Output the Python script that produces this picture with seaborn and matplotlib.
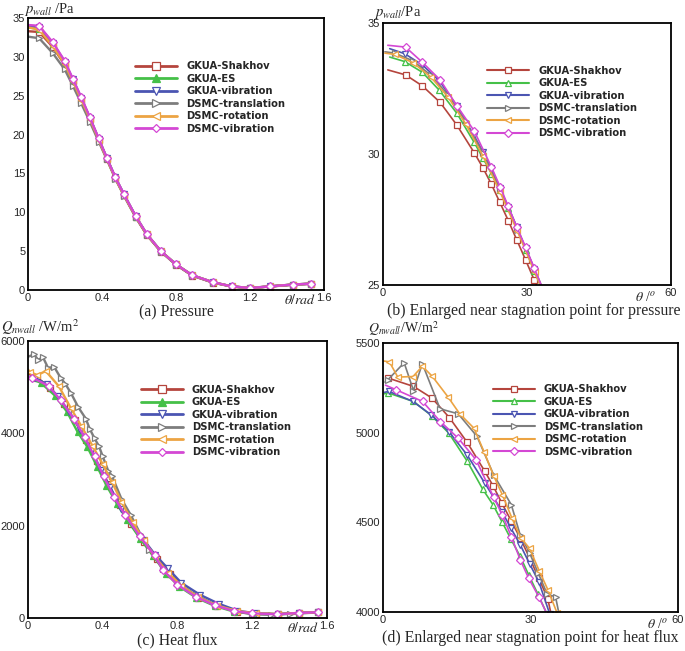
import matplotlib
matplotlib.use("Agg")
import matplotlib.pyplot as plt
from matplotlib.lines import Line2D
from matplotlib.ticker import MultipleLocator
import seaborn as sns

# series names / styles
names = ["GKUA-Shakhov", "GKUA-ES", "GKUA-vibration",
         "DSMC-translation", "DSMC-rotation", "DSMC-vibration"]
colors = ["#b5453d", "#45c048", "#4b55b2", "#7d7d7d", "#eca443", "#d448d4"]
markers = ["s", "^", "v", ">", "<", "D"]

# (a) pressure, theta in rad
th_a = [0.0, 0.06, 0.133, 0.198, 0.242, 0.288, 0.335, 0.382, 0.426, 0.472, 0.519,
        0.582, 0.642, 0.718, 0.8, 0.888, 1.0, 1.10, 1.20, 1.31, 1.43, 1.53]
p_a_shakhov = [33.3, 33.2, 31.3, 29.0, 26.9, 24.5, 22.0, 19.3, 16.9, 14.4, 12.2,
               9.4, 7.1, 4.95, 3.25, 1.85, 0.95, 0.45, 0.25, 0.45, 0.68, 0.8]
p_a_es = [33.8, 33.6, 31.6, 29.2, 27.0, 24.6, 22.1, 19.4, 16.95, 14.45, 12.25,
          9.45, 7.15, 5.0, 3.3, 1.9, 1.0, 0.47, 0.26, 0.47, 0.7, 0.82]
p_a_vib = [34.0, 33.9, 31.8, 29.4, 27.1, 24.7, 22.1, 19.45, 17.0, 14.5, 12.3,
           9.5, 7.2, 5.0, 3.3, 1.9, 1.0, 0.47, 0.26, 0.47, 0.7, 0.82]
p_a_trans = [32.6, 32.4, 30.5, 28.4, 26.3, 24.0, 21.6, 19.1, 16.8, 14.3, 12.1,
             9.35, 7.1, 4.95, 3.25, 1.85, 0.95, 0.45, 0.25, 0.45, 0.68, 0.8]
p_a_rot = [33.8, 33.5, 31.4, 29.1, 26.9, 24.5, 22.0, 19.35, 16.9, 14.4, 12.2,
           9.45, 7.15, 5.0, 3.3, 1.9, 1.0, 0.47, 0.26, 0.47, 0.7, 0.82]
p_a_dvib = [34.1, 34.0, 31.9, 29.5, 27.2, 24.8, 22.2, 19.5, 17.0, 14.5, 12.3,
            9.5, 7.2, 5.0, 3.3, 1.9, 1.0, 0.47, 0.26, 0.47, 0.7, 0.82]

# (b) pressure near stagnation point, theta in degrees
th_b_shakhov = [1.0, 4.7, 8.2, 11.9, 15.4, 19.0, 20.8, 22.6, 24.3, 26.1, 27.9, 29.7, 31.5, 33.3]
p_b_shakhov = [33.21, 33.02, 32.60, 31.97, 31.10, 30.05, 29.48, 28.84, 28.17, 27.46, 26.71, 25.96, 25.19, 24.45]
th_b_es = [1.4, 4.5, 8.2, 11.7, 15.4, 19.0, 20.8, 22.6, 24.3, 26.1, 27.9, 29.7, 31.5, 33.3]
p_b_es = [33.70, 33.53, 33.12, 32.44, 31.55, 30.44, 29.85, 29.25, 28.62, 27.95, 27.2, 26.35, 25.55, 24.75]
th_b_vib = [1.4, 4.5, 8.2, 11.7, 15.4, 19.0, 20.8, 22.6, 24.3, 26.1, 27.9, 29.7, 31.5, 33.3]
p_b_vib = [34.02, 33.83, 33.40, 32.80, 31.84, 30.69, 30.09, 29.45, 28.72, 27.97, 27.2, 26.41, 25.62, 24.8]
th_b_trans = [0.4, 2.45, 6.3, 10.0, 13.6, 17.2, 20.8, 24.4, 28.0, 31.6, 33.3]
p_b_trans = [33.9, 33.85, 33.55, 33.0, 32.25, 31.25, 30.05, 28.65, 27.1, 25.6, 24.85]
th_b_rot = [0.4, 2.45, 6.3, 10.0, 13.6, 17.2, 20.8, 24.4, 28.0, 31.6, 33.3]
p_b_rot = [33.85, 33.80, 33.48, 32.93, 32.16, 31.16, 29.93, 28.55, 27.05, 25.5, 24.75]
th_b_dvib = [1.0, 4.7, 8.2, 11.9, 15.4, 19.0, 22.6, 24.4, 26.1, 27.9, 29.7, 31.5, 33.4]
p_b_dvib = [34.15, 34.08, 33.5, 32.83, 31.84, 30.88, 29.5, 28.75, 28.0, 27.2, 26.45, 25.65, 24.8]

# (c) heat flux, theta in rad
th_c_shakhov = [0.0, 0.05, 0.12, 0.19, 0.25, 0.31, 0.37, 0.43, 0.49, 0.55, 0.62,
                0.69, 0.76, 0.82, 0.91, 1.01, 1.12, 1.22, 1.34, 1.45, 1.55]
q_c_shakhov = [5300, 5200, 4980, 4640, 4280, 3860, 3390, 2900, 2440, 2040, 1640,
               1280, 950, 700, 440, 260, 140, 95, 85, 110, 125]
th_c_es = [0.0, 0.068, 0.146, 0.209, 0.265, 0.317, 0.37, 0.42, 0.475, 0.53, 0.6,
           0.67, 0.74, 0.81, 0.9, 1.0, 1.1, 1.2, 1.335, 1.45, 1.55]
q_c_es = [5200, 5098, 4810, 4465, 4033, 3709, 3280, 2870, 2480, 2130, 1720,
          1340, 960, 680, 440, 260, 140, 95, 80, 105, 120]
th_c_vib = [0.0, 0.04, 0.1, 0.16, 0.22, 0.28, 0.34, 0.39, 0.44, 0.5, 0.56,
            0.62, 0.68, 0.747, 0.82, 0.92, 1.02, 1.12, 1.22, 1.34, 1.45, 1.55]
q_c_vib = [5230, 5200, 5060, 4800, 4470, 4080, 3640, 3200, 2830, 2360, 2020,
           1690, 1370, 1080, 763, 504, 310, 160, 100, 85, 110, 125]
th_c_trans = [0.0, 0.033, 0.054, 0.08, 0.107, 0.14, 0.174, 0.2, 0.23, 0.27, 0.309,
              0.33, 0.356, 0.38, 0.40, 0.43, 0.449, 0.5, 0.55, 0.6, 0.65, 0.72,
              0.8, 0.9, 1.0, 1.1, 1.2, 1.3, 1.4, 1.55]
q_c_trans = [5660, 5710, 5590, 5650, 5420, 5440, 5206, 5070, 4870, 4560, 4320,
             4100, 3890, 3720, 3500, 3180, 3080, 2580, 2230, 1830, 1480, 1070,
             760, 490, 290, 150, 80, 70, 90, 120]
th_c_rot = [0.0, 0.01, 0.05, 0.095, 0.165, 0.23, 0.285, 0.345, 0.40, 0.45, 0.5,
            0.56, 0.62, 0.68, 0.75, 0.82, 0.91, 1.01, 1.12, 1.22, 1.34, 1.45, 1.55]
q_c_rot = [5380, 5330, 5260, 5350, 5020, 4540, 4160, 3730, 3330, 2940, 2520,
           2070, 1680, 1320, 980, 700, 450, 270, 150, 100, 85, 110, 125]
th_c_dvib = [0.0, 0.023, 0.11, 0.174, 0.247, 0.304, 0.356, 0.405, 0.462, 0.52, 0.598,
             0.677, 0.725, 0.8, 0.9, 1.0, 1.1, 1.2, 1.335, 1.45, 1.55]
q_c_dvib = [5220, 5206, 5026, 4724, 4307, 3910, 3499, 3067, 2614, 2230, 1772,
            1354, 1030, 720, 454, 274, 151, 100, 80, 110, 125]

# (d) heat flux near stagnation point, theta in degrees
th_d_shakhov = [0.7, 1.1, 6.2, 9.96, 13.5, 17.1, 20.65, 22.4, 24.2, 26.05, 27.95, 29.86, 31.7, 33.5, 34.3]
q_d_shakhov = [5313, 5304, 5258, 5193, 5084, 4947, 4787, 4703, 4606, 4509, 4410, 4299, 4187, 4075, 3975]
th_d_es = [0.3, 1.1, 6.2, 9.9, 13.4, 17.1, 20.3, 22.4, 24.2, 26.05, 27.9, 29.65, 31.5, 33.5]
q_d_es = [5217, 5221, 5174, 5094, 4997, 4842, 4684, 4597, 4503, 4405, 4310, 4206, 4100, 3980]
th_d_vib = [0.3, 1.2, 6.1, 9.8, 13.4, 17.1, 20.65, 22.5, 24.2, 26.05, 27.95, 29.8, 31.7, 33.9]
q_d_vib = [5225, 5230, 5174, 5099, 5006, 4876, 4721, 4640, 4559, 4466, 4373, 4270, 4168, 3990]
th_d_trans = [0.4, 1.0, 4.3, 6.2, 8.0, 11.6, 15.3, 19.1, 22.5, 26.1, 27.9, 29.8, 31.6, 33.4, 35.1, 35.8]
q_d_trans = [5282, 5295, 5390, 5235, 5385, 5133, 5105, 4980, 4765, 4598, 4430, 4330, 4215, 4100, 4084, 3990]
th_d_rot = [0.0, 1.3, 3.0, 6.1, 8.0, 10.0, 13.2, 15.6, 18.5, 20.6, 22.5, 24.3, 26.2, 28.0, 29.8, 31.8, 33.6, 35.4]
q_d_rot = [5400, 5395, 5310, 5313, 5370, 5315, 5200, 5105, 5025, 4890, 4760, 4652, 4525, 4415, 4355, 4228, 4120, 3995]
th_d_dvib = [0.5, 2.6, 8.05, 11.66, 15.3, 18.9, 22.5, 24.3, 26.1, 27.95, 29.65, 31.7, 33.5]
q_d_dvib = [5265, 5240, 5174, 5062, 4969, 4850, 4640, 4540, 4420, 4289, 4187, 4084, 3980]

panel_a = list(zip([th_a] * 6, [p_a_shakhov, p_a_es, p_a_vib, p_a_trans, p_a_rot, p_a_dvib]))
panel_b = [(th_b_shakhov, p_b_shakhov), (th_b_es, p_b_es), (th_b_vib, p_b_vib),
           (th_b_trans, p_b_trans), (th_b_rot, p_b_rot), (th_b_dvib, p_b_dvib)]
panel_c = [(th_c_shakhov, q_c_shakhov), (th_c_es, q_c_es), (th_c_vib, q_c_vib),
           (th_c_trans, q_c_trans), (th_c_rot, q_c_rot), (th_c_dvib, q_c_dvib)]
panel_d = [(th_d_shakhov, q_d_shakhov), (th_d_es, q_d_es), (th_d_vib, q_d_vib),
           (th_d_trans, q_d_trans), (th_d_rot, q_d_rot), (th_d_dvib, q_d_dvib)]

sns.set_style("white")
plt.rcParams["font.family"] = ["Liberation Sans", "DejaVu Sans"]
plt.rcParams["mathtext.fontset"] = "stix"

fig = plt.figure(figsize=(6.85, 6.51), dpi=100)
W, H = 685.0, 651.0


def add_ax(l, r, t, b):
    return fig.add_axes([l / W, 1 - b / H, (r - l) / W, (b - t) / H])


def draw(ax, series, lw, ms, es_filled):
    handles = []
    for (x, y), name, c, m in zip(series, names, colors, markers):
        mfc = c if (es_filled and name == "GKUA-ES") else "white"
        s = ms * 0.85 if m == "D" else ms
        sns.lineplot(x=x, y=y, ax=ax, color=c, marker=m, markersize=s,
                     markerfacecolor=mfc, markeredgecolor=c, markeredgewidth=0.9,
                     linewidth=lw, sort=False, estimator=None, legend=False,
                     markevery=slice(1, None))
        handles.append(Line2D([], [], color=c, marker=m, markersize=s + 0.5,
                              markerfacecolor=mfc, markeredgecolor=c,
                              markeredgewidth=0.9, linewidth=lw + 0.3))
    return handles


def style(ax, handles, legx, legy):
    for sp in ax.spines.values():
        sp.set_linewidth(1.3)
        sp.set_color("black")
    ax.tick_params(direction="in", which="major", length=5, width=1.0,
                   labelsize=8, pad=2, top=False, right=False)
    ax.tick_params(direction="in", which="minor", length=2.5, width=0.8,
                   top=False, right=False)
    ax.set_ylabel("")
    ax.legend(handles, names, loc="upper left", bbox_to_anchor=(legx, legy),
              frameon=False, handlelength=4.2, handletextpad=0.9,
              labelspacing=0.25, borderpad=0, numpoints=1,
              prop={"family": "DejaVu Sans", "weight": "bold", "size": 7.2})


serif = ["Liberation Serif", "DejaVu Serif"]

# (a)
ax = add_ax(28, 324, 18, 290)
h = draw(ax, panel_a, 1.7, 4.8, True)
ax.set_xlim(0, 1.6)
ax.set_ylim(0, 35)
ax.set_xticks([0, 0.4, 0.8, 1.2, 1.6], ["0", "0.4", "0.8", "1.2", "1.6"])
ax.set_yticks(range(0, 36, 5))
ax.xaxis.set_minor_locator(MultipleLocator(0.2))
style(ax, h, 0.345, 0.86)
ax.set_xlabel(r"$\theta/rad$", fontsize=10, family=serif)
ax.xaxis.set_label_coords(0.92, -0.012)
ax.text(-0.012, 1.033, r"$p_{wall}$ /Pa", transform=ax.transAxes, ha="left",
        va="center", fontsize=10.5, family=serif)

# (b)
ax = add_ax(383, 671, 23, 285)
h = draw(ax, panel_b, 1.2, 4.3, False)
ax.set_xlim(0, 60)
ax.set_ylim(25, 35)
ax.set_xticks([0, 30, 60])
ax.set_yticks([25, 30, 35])
ax.xaxis.set_minor_locator(MultipleLocator(3))
ax.yaxis.set_minor_locator(MultipleLocator(1))
style(ax, h, 0.345, 0.855)
ax.set_xlabel(r"$\theta$ /$^o$", fontsize=10, family=serif)
ax.xaxis.set_label_coords(0.91, -0.02)
ax.text(-0.03, 1.04, r"$p_{wall}$/Pa", transform=ax.transAxes, ha="left",
        va="center", fontsize=10.5, family=serif)

# (c)
ax = add_ax(28, 327, 341, 618)
h = draw(ax, panel_c, 1.7, 4.8, True)
ax.set_xlim(0, 1.6)
ax.set_ylim(0, 6000)
ax.set_xticks([0, 0.4, 0.8, 1.2, 1.6], ["0", "0.4", "0.8", "1.2", "1.6"])
ax.set_yticks([0, 2000, 4000, 6000])
ax.xaxis.set_minor_locator(MultipleLocator(0.2))
ax.yaxis.set_minor_locator(MultipleLocator(500))
style(ax, h, 0.36, 0.86)
ax.set_xlabel(r"$\theta/rad$", fontsize=10, family=serif)
ax.xaxis.set_label_coords(0.92, -0.012)
ax.text(-0.09, 1.05, r"$Q_{nwall}$ /W/m$^2$", transform=ax.transAxes, ha="left",
        va="center", fontsize=10.5, family=serif)

# (d)
ax = add_ax(383, 678, 343, 612)
h = draw(ax, panel_d, 1.2, 4.3, False)
ax.set_xlim(0, 60)
ax.set_ylim(4000, 5500)
ax.set_xticks([0, 30, 60])
ax.set_yticks([4000, 4500, 5000, 5500])
ax.xaxis.set_minor_locator(MultipleLocator(6))
ax.yaxis.set_minor_locator(MultipleLocator(100))
style(ax, h, 0.355, 0.865)
ax.set_xlabel(r"$\theta$ /$^o$", fontsize=10, family=serif)
ax.xaxis.set_label_coords(0.93, -0.02)
ax.text(-0.05, 1.053, r"$Q_{nwall}$/W/m$^2$", transform=ax.transAxes, ha="left",
        va="center", fontsize=10, family=serif)

# captions
for x, y, s in [(176, 312, "(a) Pressure"),
                (534, 311, "(b) Enlarged near stagnation point for pressure"),
                (177, 640, "(c) Heat flux"),
                (530, 638, "(d) Enlarged near stagnation point for heat flux")]:
    fig.text(x / W, 1 - y / H, s, ha="center", va="center", fontsize=11.3,
             family=serif)

fig.savefig("out.png", dpi=100)
